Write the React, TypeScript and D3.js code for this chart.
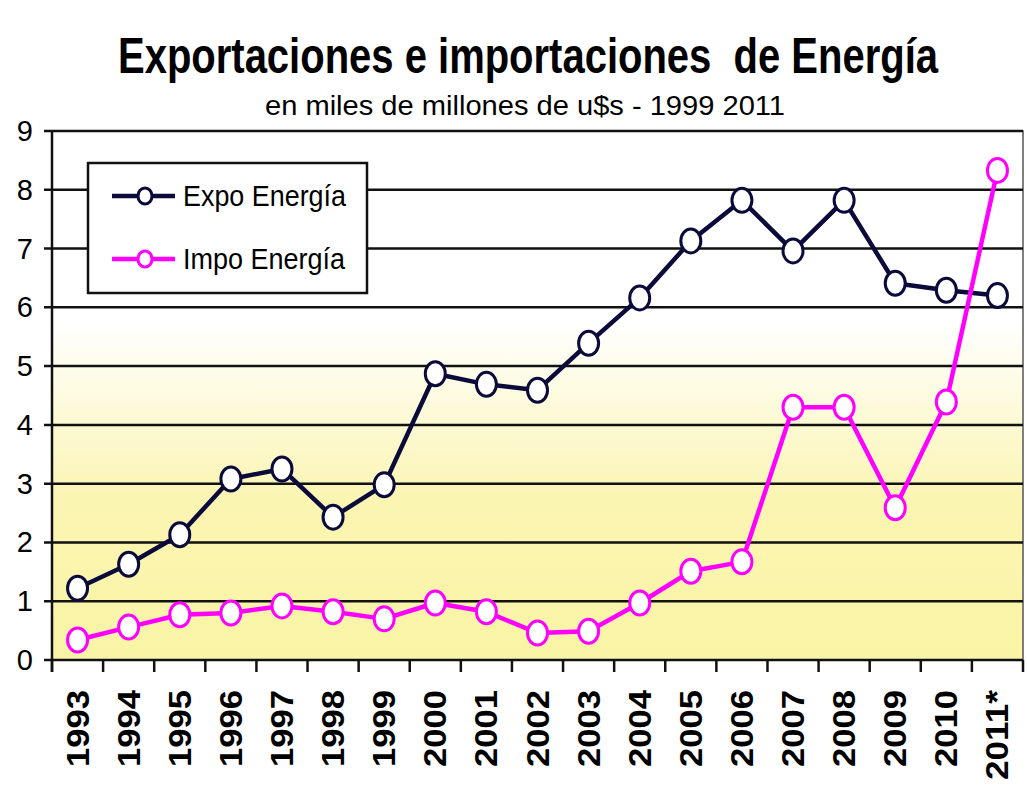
import React from "react";
import * as d3 from "d3";

const years = ["1993","1994","1995","1996","1997","1998","1999","2000","2001","2002","2003","2004","2005","2006","2007","2008","2009","2010","2011*"];
const expo = [1.22,1.63,2.13,3.08,3.25,2.43,2.98,4.87,4.69,4.59,5.39,6.16,7.13,7.82,6.96,7.82,6.41,6.29,6.2];
const impo = [0.34,0.56,0.77,0.8,0.92,0.82,0.7,0.97,0.82,0.46,0.49,0.97,1.51,1.67,4.3,4.3,2.59,4.39,8.33];
const yTicks = [0,1,2,3,4,5,6,7,8,9];
const seriesNames = ["Expo Energía", "Impo Energía"];
const title = "Exportaciones e importaciones  de Energía";
const subtitle = "en miles de millones de u$s - 1999 2011";

const W = 1027, H = 786;
const left = 52, right = 1023, top = 131, bottom = 660;
const EXPO_COLOR = "#0b0b3b";
const IMPO_COLOR = "#ff00ff";
const FONT = "'Liberation Sans Narrow', 'Arial Narrow', 'Liberation Sans', Arial, sans-serif";

export default function App() {
  const x = d3.scaleBand<string>().domain(years).range([left, right]).padding(0);
  const y = d3.scaleLinear().domain([0, 9]).range([bottom, top]);
  const cx = (d: string) => (x(d) as number) + x.bandwidth() / 2;
  const line = d3.line<number>().x((_, i) => cx(years[i])).y((v) => y(v));

  const boundaries = years.map((d) => x(d) as number).concat([right]);

  return (
    <svg width={W} height={H} style={{ position: "absolute", left: 0, top: 0, background: "#fff" }}>
      <defs>
        <linearGradient id="bg" x1="0" y1="0" x2="0" y2="1">
          <stop offset="0" stopColor="#ffffff" />
          <stop offset="0.36" stopColor="#ffffff" />
          <stop offset="0.7" stopColor="#fbf5b2" />
          <stop offset="1" stopColor="#faf4a6" />
        </linearGradient>
      </defs>
      <g transform="translate(528,73) scale(0.8,1)">
        <text x={0} y={0} textAnchor="middle" fontFamily={FONT} fontWeight="bold" fontSize={50} style={{ whiteSpace: "pre" }}>{title}</text>
      </g>
      <text x={525} y={115} textAnchor="middle" fontFamily={FONT} fontSize={27} textLength={520} lengthAdjust="spacingAndGlyphs">{subtitle}</text>

      <rect x={left} y={top} width={right - left} height={bottom - top} fill="url(#bg)" stroke="#555" strokeWidth={1.5} />
      {yTicks.map((t) => (
        <g key={t}>
          <line x1={left - 8} x2={right} y1={y(t)} y2={y(t)} stroke="#111" strokeWidth={2.5} />
          <text x={33} y={y(t) + 10} textAnchor="end" fontFamily={FONT} fontSize={29}>{t}</text>
        </g>
      ))}
      <line x1={left} x2={left} y1={top} y2={bottom + 12} stroke="#111" strokeWidth={2.5} />
      {boundaries.map((b, i) => (
        <line key={i} x1={b} x2={b} y1={bottom} y2={bottom + 12} stroke="#111" strokeWidth={2.5} />
      ))}
      {years.map((d) => (
        <text key={d} transform={`translate(${cx(d) + 11},690) rotate(-90)`} textAnchor="end" fontFamily={FONT} fontWeight="bold" fontSize={31}
          textLength={d.length > 4 ? 90 : 77} lengthAdjust="spacingAndGlyphs">{d}</text>
      ))}

      <path d={line(expo) || ""} fill="none" stroke={EXPO_COLOR} strokeWidth={4.5} strokeLinejoin="round" />
      <path d={line(impo) || ""} fill="none" stroke={IMPO_COLOR} strokeWidth={4.5} strokeLinejoin="round" />
      {expo.map((v, i) => (
        <ellipse key={"e" + i} cx={cx(years[i])} cy={y(v)} rx={10} ry={12} fill="#fff" stroke={EXPO_COLOR} strokeWidth={3} />
      ))}
      {impo.map((v, i) => (
        <ellipse key={"i" + i} cx={cx(years[i])} cy={y(v)} rx={10} ry={12} fill="#fff" stroke={IMPO_COLOR} strokeWidth={3} />
      ))}

      <rect x={88} y={163} width={279} height={130} fill="#fff" stroke="#111" strokeWidth={2.5} />
      {seriesNames.map((n, i) => {
        const ly = 196 + i * 63;
        const c = i === 0 ? EXPO_COLOR : IMPO_COLOR;
        return (
          <g key={n}>
            <line x1={112} x2={175} y1={ly} y2={ly} stroke={c} strokeWidth={4.5} />
            <ellipse cx={145} cy={ly} rx={7} ry={8} fill="#fff" stroke={c} strokeWidth={3} />
            <text x={183} y={ly + 10} fontFamily={FONT} fontSize={29} textLength={i === 0 ? 163 : 162} lengthAdjust="spacingAndGlyphs">{n}</text>
          </g>
        );
      })}
    </svg>
  );
}
